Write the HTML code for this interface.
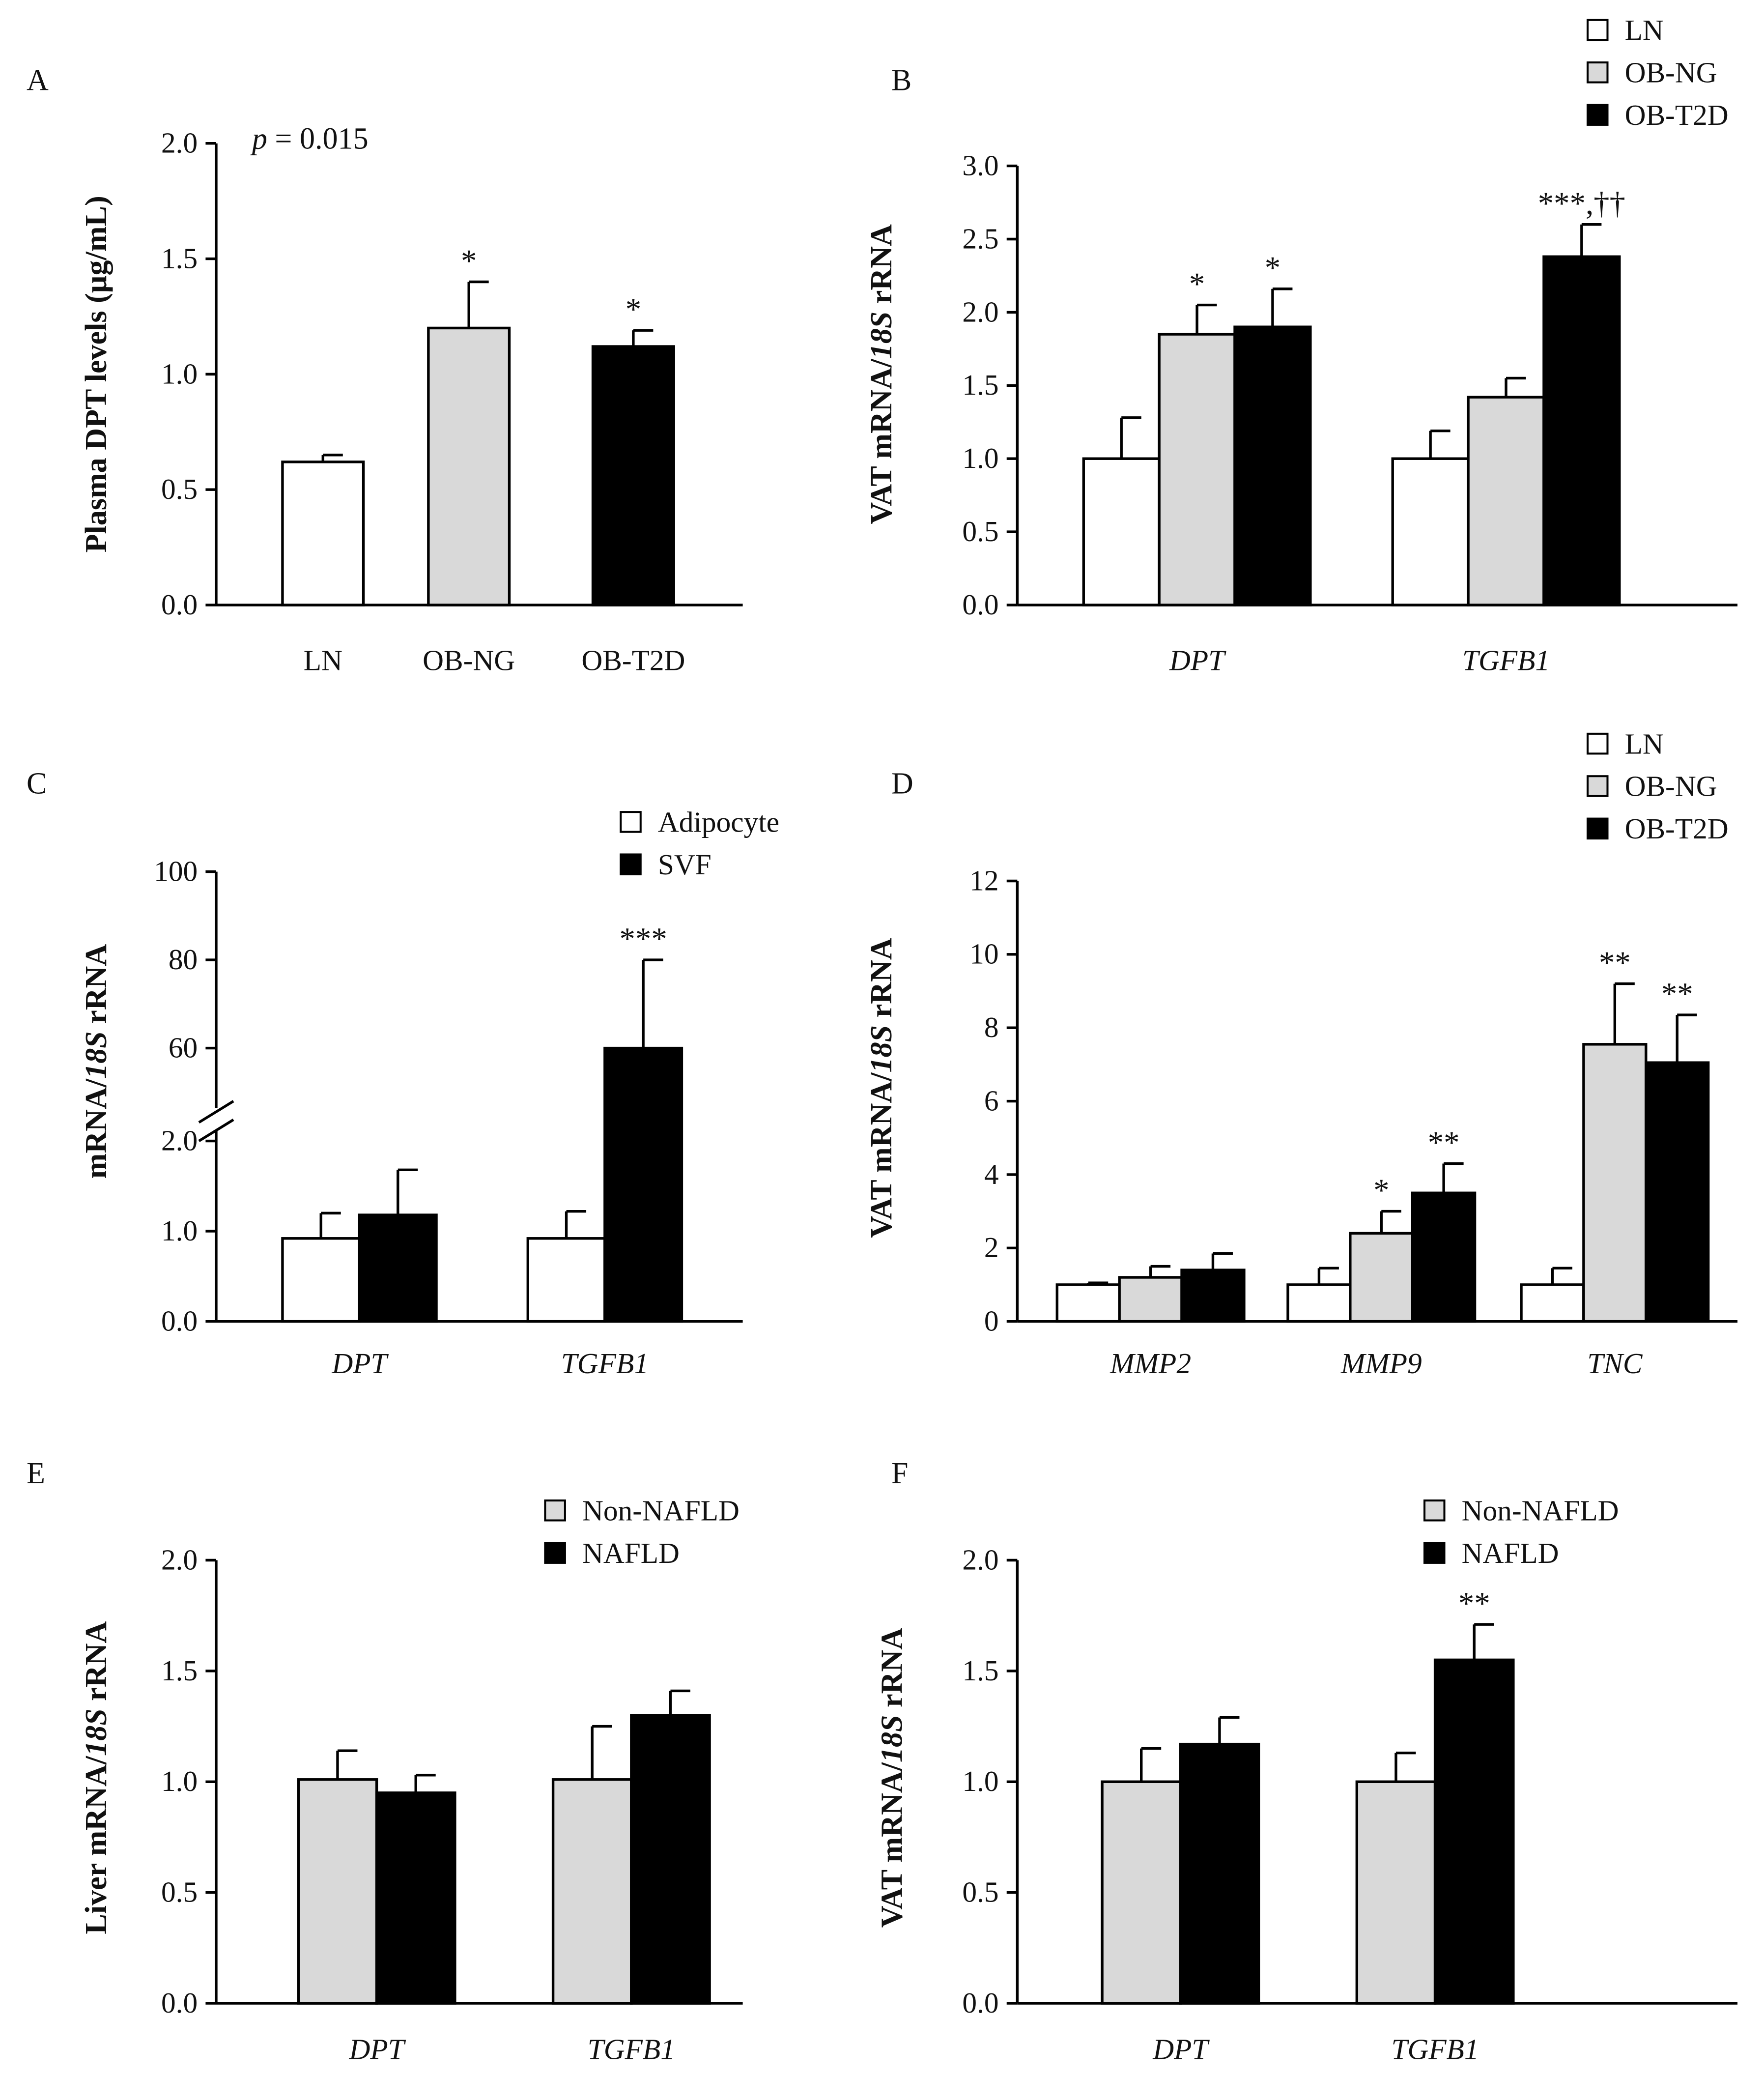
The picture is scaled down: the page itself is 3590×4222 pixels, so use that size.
<!DOCTYPE html>
<html><head><meta charset="utf-8"><style>
html,body{margin:0;padding:0;background:#fff}
svg{display:block}
text{font-family:"Liberation Serif",serif;fill:#111}
</style></head><body>
<svg id="fig" width="3590" height="4222" viewBox="0 0 1330 1564" xmlns="http://www.w3.org/2000/svg"></svg>
<script>
// ---- data ----
const aCats=["LN","OB-NG","OB-T2D"];
const aVals=[0.62,1.2,1.12];
const aErr=[0.65,1.4,1.19];
const aStars=["","*","*"];
const bCats=["DPT","TGFB1"];
const bLN=[1.0,1.0], bLNe=[1.28,1.19];
const bNG=[1.85,1.42], bNGe=[2.05,1.55];
const bT2=[1.9,2.38], bT2e=[2.16,2.6];
const bStars=[["","*","*"],["","","***,††"]];
const cCats=["DPT","TGFB1"];
const cAd=[0.92,0.92], cAde=[1.2,1.22];
const cSV=[1.18,60], cSVe=[1.68,80];
const dCats=["MMP2","MMP9","TNC"];
const dLN=[1.0,1.0,1.0], dLNe=[1.05,1.45,1.45];
const dNG=[1.2,2.4,7.55], dNGe=[1.5,3.0,9.2];
const dT2=[1.4,3.5,7.05], dT2e=[1.85,4.3,8.35];
const dStars=[["","",""],["","*","**"],["","**","**"]];
const eCats=["DPT","TGFB1"];
const eNon=[1.01,1.01], eNone=[1.14,1.25];
const eNA=[0.95,1.3], eNAe=[1.03,1.41];
const fCats=["DPT","TGFB1"];
const fNon=[1.0,1.0], fNone=[1.15,1.13];
const fNA=[1.17,1.55], fNAe=[1.29,1.71];
const fStars=[["",""],["","**"]];

const NS="http://www.w3.org/2000/svg";
const svg=document.getElementById('fig');
function el(tag,attrs,parent){const e=document.createElementNS(NS,tag);for(const k in attrs)e.setAttribute(k,attrs[k]);(parent||svg).appendChild(e);return e;}
function txt(x,y,s,opt,parent){const t=el('text',Object.assign({x:x,y:y,'font-size':22},opt||{}),parent);t.textContent=s;return t;}
const GRAY="#d9d9d9";

function axes(g,x0,x1,y0,yTop,ticks,fmt,yScale){
  el('line',{x1:x0,y1:y0,x2:x1,y2:y0,stroke:'#000','stroke-width':2},g);
  el('line',{x1:x0,y1:y0,x2:x0,y2:yTop,stroke:'#000','stroke-width':2},g);
  ticks.forEach(v=>{const y=yScale(v);
    el('line',{x1:x0-8,y1:y,x2:x0,y2:y,stroke:'#000','stroke-width':2},g);
    const t=txt(x0-14,y+7,fmt(v),{'text-anchor':'end'},g);
    });
}
function bar(g,x,w,v,e,fill,ys,name){
  const y0=ys(0),y=ys(v);
  const r=el('rect',{x:x,y:y,width:w,height:y0-y,fill:fill,stroke:'#000','stroke-width':2},g);
  
  
  const cx=x+w/2,ye=ys(e);
  el('line',{x1:cx,y1:y,x2:cx,y2:ye,stroke:'#000','stroke-width':2},g);
  el('line',{x1:cx,y1:ye,x2:cx+15,y2:ye,stroke:'#000','stroke-width':2},g);
}
function ylabel(g,x,y,parts){
  const t=el('text',{x:0,y:0,'font-size':23,'font-weight':'bold','text-anchor':'middle',transform:`translate(${x},${y}) rotate(-90)`},g);
  
  parts.forEach(p=>{const s=el('tspan',p[1]?{'font-style':'italic'}:{},t);s.textContent=p[0];});
}
function legend(g,x,y,items){
  items.forEach((it,i)=>{
    const r=el('rect',{x:x,y:y+i*32,width:15,height:15,fill:it[1],stroke:'#000','stroke-width':1.5},g);
    
    const t=txt(x+28,y+i*32+15,it[0],{},g);
    
  });
}
function panelLetter(x,y,s){const t=txt(x,y,s,{'font-size':23});}
const f1=v=>v.toFixed(1), f0=v=>String(v);
function grp(name){const g=el('g',{});return g;}
function catLabel(g,x,y,s,it){const t=txt(x,y,s,{'text-anchor':'middle','font-style':it?'italic':'normal'},g);}
function star(g,x,y,s){if(!s)return;const t=txt(x,y,s,{'text-anchor':'middle','font-size':24},g);}

// ---- Panel A ----
(function(){
  const g=grp('panel-a'); panelLetter(20,68,'A');
  const y0=456,yT=108; const ys=v=>y0-(v/2.0)*(y0-yT);
  axes(g,163,560,y0,yT,[0,0.5,1,1.5,2],f1,ys);
  const fills=["#fff",GRAY,"#000"], xs=[213,323,447], w=61;
  aCats.forEach((c,i)=>{bar(g,xs[i],w,aVals[i],aErr[i],fills[i],ys,'bar-'+c.toLowerCase());
    catLabel(g,xs[i]+w/2,505,c,false); star(g,xs[i]+w/2,ys(aErr[i])-8,aStars[i]);});
  ylabel(g,80,282,[["Plasma DPT levels (µg/mL)",0]]);
  const t=el('text',{x:190,y:112,'font-size':23},g);
  const p=el('tspan',{'font-style':'italic'},t);p.textContent='p';
  const q=el('tspan',{},t);q.textContent=' = 0.015';
})();

// ---- Panel B ----
(function(){
  const g=grp('panel-b'); panelLetter(672,68,'B');
  const y0=456,yT=125; const ys=v=>y0-(v/3.0)*(y0-yT);
  axes(g,767,1310,y0,yT,[0,0.5,1,1.5,2,2.5,3],f1,ys);
  const starts=[817,1050], w=57;
  const ser=[[bLN,bLNe,"#fff"],[bNG,bNGe,GRAY],[bT2,bT2e,"#000"]];
  bCats.forEach((c,ci)=>{ser.forEach((s,si)=>{const x=starts[ci]+si*w;
      bar(g,x,w,s[0][ci],s[1][ci],s[2],ys,'bar-'+c.toLowerCase()+'-'+si);
      star(g,x+w/2,ys(s[1][ci])-8,bStars[ci][si]);});
    catLabel(g,starts[ci]+1.5*w,505,c,true);});
  ylabel(g,672,282,[["VAT mRNA/",0],["18S",1],[" rRNA",0]]);
  legend(g,1197,15,[["LN","#fff"],["OB-NG",GRAY],["OB-T2D","#000"]]);
})();

// ---- Panel C (broken axis) ----
(function(){
  const g=grp('panel-c'); panelLetter(20,598,'C');
  const y0=996;
  const ys=v=> v<=2.5 ? y0-(v/2.0)*(y0-860) : 790-((v-60)/20)*66.5;
  el('line',{x1:163,y1:y0,x2:560,y2:y0,stroke:'#000','stroke-width':2},g);
  el('line',{x1:163,y1:y0,x2:163,y2:852,stroke:'#000','stroke-width':2},g);
  el('line',{x1:163,y1:835,x2:163,y2:657,stroke:'#000','stroke-width':2},g);
  el('line',{x1:150,y1:846,x2:176,y2:830,stroke:'#000','stroke-width':2},g);
  el('line',{x1:150,y1:860,x2:176,y2:844,stroke:'#000','stroke-width':2},g);
  [0,1,2].forEach(v=>{const y=ys(v);el('line',{x1:155,y1:y,x2:163,y2:y,stroke:'#000','stroke-width':2},g);
    const t=txt(149,y+7,f1(v),{'text-anchor':'end'},g);});
  [60,80,100].forEach(v=>{const y=ys(v);el('line',{x1:155,y1:y,x2:163,y2:y,stroke:'#000','stroke-width':2},g);
    const t=txt(149,y+7,f0(v),{'text-anchor':'end'},g);});
  const starts=[213,398], w=58;
  cCats.forEach((c,ci)=>{
    bar(g,starts[ci],w,cAd[ci],cAde[ci],"#fff",ys,'bar-'+c.toLowerCase()+'-adipocyte');
    bar(g,starts[ci]+w,w,cSV[ci],cSVe[ci],"#000",ys,'bar-'+c.toLowerCase()+'-svf');
    catLabel(g,starts[ci]+w,1035,c,true);});
  star(g,starts[1]+1.5*w,ys(cSVe[1])-8,"***");
  ylabel(g,80,800,[["mRNA/",0],["18S",1],[" rRNA",0]]);
  legend(g,468,612,[["Adipocyte","#fff"],["SVF","#000"]]);
})();

// ---- Panel D ----
(function(){
  const g=grp('panel-d'); panelLetter(672,598,'D');
  const y0=996,yT=664; const ys=v=>y0-(v/12)*(y0-yT);
  axes(g,767,1310,y0,yT,[0,2,4,6,8,10,12],f0,ys);
  const starts=[797,971,1147], w=47;
  const ser=[[dLN,dLNe,"#fff"],[dNG,dNGe,GRAY],[dT2,dT2e,"#000"]];
  dCats.forEach((c,ci)=>{ser.forEach((s,si)=>{const x=starts[ci]+si*w;
      bar(g,x,w,s[0][ci],s[1][ci],s[2],ys,'bar-'+c.toLowerCase()+'-'+si);
      star(g,x+w/2,ys(s[1][ci])-8,dStars[ci][si]);});
    catLabel(g,starts[ci]+1.5*w,1035,c,true);});
  ylabel(g,672,820,[["VAT mRNA/",0],["18S",1],[" rRNA",0]]);
  legend(g,1197,553,[["LN","#fff"],["OB-NG",GRAY],["OB-T2D","#000"]]);
})();

// ---- Panel E ----
(function(){
  const g=grp('panel-e'); panelLetter(20,1118,'E');
  const y0=1510,yT=1176; const ys=v=>y0-(v/2)*(y0-yT);
  axes(g,163,560,y0,yT,[0,0.5,1,1.5,2],f1,ys);
  const starts=[225,417], w=59;
  eCats.forEach((c,ci)=>{
    bar(g,starts[ci],w,eNon[ci],eNone[ci],GRAY,ys,'bar-'+c.toLowerCase()+'-non-nafld');
    bar(g,starts[ci]+w,w,eNA[ci],eNAe[ci],"#000",ys,'bar-'+c.toLowerCase()+'-nafld');
    catLabel(g,starts[ci]+w,1552,c,true);});
  ylabel(g,80,1340,[["Liver mRNA/",0],["18S",1],[" rRNA",0]]);
  legend(g,411,1131,[["Non-NAFLD",GRAY],["NAFLD","#000"]]);
})();

// ---- Panel F ----
(function(){
  const g=grp('panel-f'); panelLetter(672,1118,'F');
  const y0=1510,yT=1176; const ys=v=>y0-(v/2)*(y0-yT);
  axes(g,767,1310,y0,yT,[0,0.5,1,1.5,2],f1,ys);
  const starts=[831,1023], w=59;
  fCats.forEach((c,ci)=>{
    bar(g,starts[ci],w,fNon[ci],fNone[ci],GRAY,ys,'bar-'+c.toLowerCase()+'-non-nafld');
    bar(g,starts[ci]+w,w,fNA[ci],fNAe[ci],"#000",ys,'bar-'+c.toLowerCase()+'-nafld');
    star(g,starts[ci]+1.5*w,ys(fNAe[ci])-8,fStars[ci][1]);
    catLabel(g,starts[ci]+w,1552,c,true);});
  ylabel(g,680,1340,[["VAT mRNA/",0],["18S",1],[" rRNA",0]]);
  legend(g,1074,1131,[["Non-NAFLD",GRAY],["NAFLD","#000"]]);
})();
</script>
</body></html>
